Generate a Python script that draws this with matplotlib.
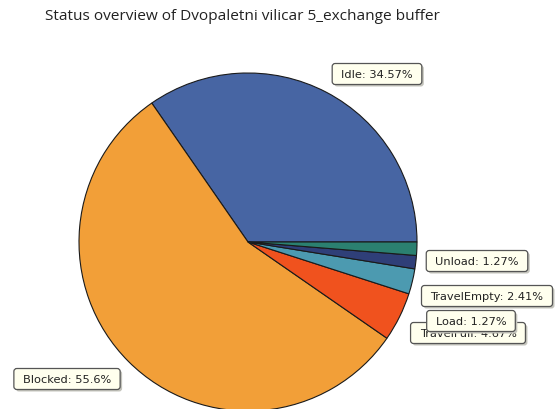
import matplotlib
matplotlib.use("Agg")
import matplotlib.pyplot as plt
from matplotlib.patches import FancyBboxPatch
from matplotlib.transforms import IdentityTransform

categories = ["Idle", "Blocked", "TravelFull", "TravelEmpty", "Load", "Unload"]
values = [34.57, 55.6, 4.67, 2.41, 1.27, 1.27]
colors = ["#4765A3", "#F29F38", "#F0521E", "#4C9AB0", "#2F3F78", "#2B8070"]
label_texts = ["Idle: 34.57%", "Blocked: 55.6%", "TravelFull: 4.67%",
               "TravelEmpty: 2.41%", "Load: 1.27%", "Unload: 1.27%"]
# label box centres in pixel coordinates (x, y from top)
label_pos = [(377, 75), (67, 380), (468, 334), (487, 297), (471, 322), (477, 262)]
draw_order = [0, 1, 2, 3, 5, 4]

W, H = 555, 410
fig = plt.figure(figsize=(W / 100, H / 100), dpi=100)
ax = fig.add_axes([0, 0, 1, 1])
ax.set_xlim(0, W)
ax.set_ylim(0, H)
ax.set_aspect("equal")
ax.axis("off")

ax.pie(values, colors=colors, startangle=0, counterclock=True,
       center=(248, H - 243), radius=169, normalize=True,
       wedgeprops=dict(edgecolor="#1a1a1a", linewidth=0.8))
ax.set_xlim(0, W)
ax.set_ylim(0, H)

texts = []
for z, i in enumerate(draw_order):
    x, y = label_pos[i]
    t = ax.text(x, H - y, label_texts[i], ha="center", va="center",
                fontsize=8.2, family="DejaVu Sans", color="#222222",
                zorder=12 + 3 * z)
    texts.append((z, t))

fig.text(242 / W, 1 - 17 / H, "Status overview of Dvopaletni vilicar 5_exchange buffer",
         ha="center", va="center", fontsize=11.1, family="Open Sans", color="#222222")

fig.canvas.draw()
renderer = fig.canvas.get_renderer()
padx, pady = 9, 6
for z, t in texts:
    bb = t.get_window_extent(renderer)
    cx = (bb.x0 + bb.x1) / 2
    cy = (bb.y0 + bb.y1) / 2
    w = bb.width + 2 * padx
    h = 21
    shadow = FancyBboxPatch((cx - w / 2 + 2, cy - h / 2 - 2), w, h,
                            boxstyle="round,pad=0,rounding_size=3",
                            fc="#c4c4bc", ec="none", transform=IdentityTransform(),
                            zorder=10 + 3 * z)
    box = FancyBboxPatch((cx - w / 2, cy - h / 2), w, h,
                         boxstyle="round,pad=0,rounding_size=3",
                         fc="#FFFFEE", ec="#555555", lw=0.9,
                         transform=IdentityTransform(), zorder=11 + 3 * z)
    ax.add_patch(shadow)
    ax.add_patch(box)

fig.savefig("out.png", dpi=100)
